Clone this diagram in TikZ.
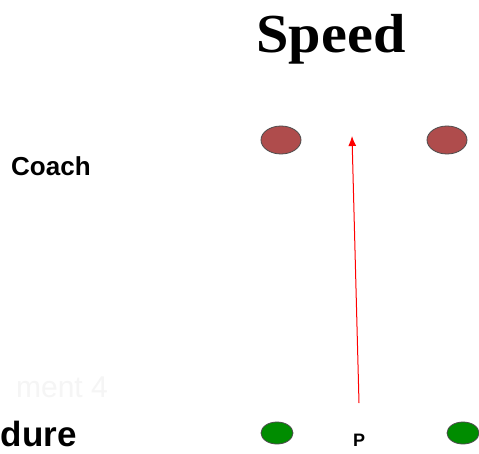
\documentclass[tikz,border=0pt]{standalone}
\usepackage{fontspec}
\usetikzlibrary{shapes.geometric,arrows.meta}
\setmainfont{Liberation Serif}
\newfontfamily\arialf{Liberation Sans}
\begin{document}
\begin{tikzpicture}[x=1pt,y=-1pt,
  redplayer/.style={ellipse,draw=black!70,line width=0.8pt,fill=red!55!black!70!white,minimum width=40pt,minimum height=28pt,inner sep=0pt},
  greenplayer/.style={ellipse,draw=black!70,line width=0.8pt,fill=green!55!black,minimum width=32pt,minimum height=22pt,inner sep=0pt},
  lbl/.style={font=\arialf\bfseries,inner sep=0pt}]
\useasboundingbox (0,0) rectangle (479,453);
\fill[white] (0,0) rectangle (479,453);
\node[inner sep=0pt,anchor=base,xscale=1.06,font=\bfseries\fontsize{55}{55}\selectfont] (title) at (331,52) {Speed};
\node[redplayer] (r1) at (281,140) {};
\node[redplayer] (r2) at (447,140) {};
\node[greenplayer] (g1) at (277,433) {};
\node[greenplayer] (g2) at (463,433) {};
\node[lbl,anchor=base west,font=\arialf\bfseries\fontsize{26}{26}\selectfont] (coach) at (11,175) {Coach};
\node[lbl,anchor=base,font=\arialf\bfseries\fontsize{18}{18}\selectfont] (p) at (359,446) {P};
\node[lbl,anchor=base east,font=\arialf\bfseries\fontsize{35}{35}\selectfont] (dure) at (77,446) {dure};
\node[inner sep=0pt,anchor=base east,text=black!4,font=\arialf\fontsize{30}{30}\selectfont] (ment) at (108,397) {ment 4};
\coordinate (start) at (359,403);
\coordinate (tip) at (352,136);
\draw[red,line width=1pt,-{Latex[length=10pt,width=8pt]}] (start) -- (tip);
\end{tikzpicture}
\end{document}
